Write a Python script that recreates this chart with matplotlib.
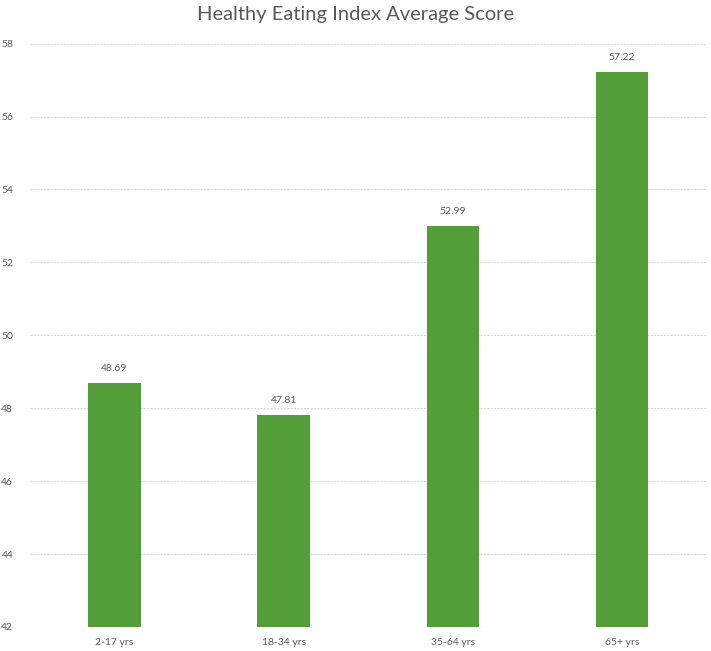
import matplotlib.pyplot as plt

plt.rcParams['font.family'] = ['Lato', 'DejaVu Sans']

groups = ['2-17 yrs', '18-34 yrs', '35-64 yrs', '65+ yrs']
scores = [48.69, 47.81, 52.99, 57.22]
yticks = [42, 44, 46, 48, 50, 52, 54, 56, 58]

fig = plt.figure(figsize=(7.11, 6.51), dpi=100)
ax = fig.add_axes([0.042, 0.037, 0.952, 0.896])

x = range(len(groups))
bars = ax.bar(x, [s - 42 for s in scores], bottom=42, width=0.31,
              color='#549E39', zorder=3)

for xi, s in zip(x, scores):
    ax.text(xi, s + 0.28, f'{s:.2f}', ha='center', va='bottom',
            fontsize=7.5, color='#595959')

ax.set_xlim(-0.5, len(groups) - 0.5)
ax.set_ylim(42, 58)
ax.set_yticks(yticks)
ax.set_yticklabels([str(t) for t in yticks])
ax.set_xticks(list(x))
ax.set_xticklabels(groups)
ax.tick_params(axis='both', length=0, labelsize=7.5, labelcolor='#595959')
ax.tick_params(axis='x', pad=8)
ax.tick_params(axis='y', pad=12)

ax.grid(axis='y', color='#d9d9d9', linestyle=(0, (2, 1)), linewidth=0.8, zorder=0)
for sp in ax.spines.values():
    sp.set_visible(False)

fig.text(0.5, 0.978, 'Healthy Eating Index Average Score', ha='center', va='center',
         fontsize=14.5, color='#595959')

fig.savefig('out.png', dpi=100)
